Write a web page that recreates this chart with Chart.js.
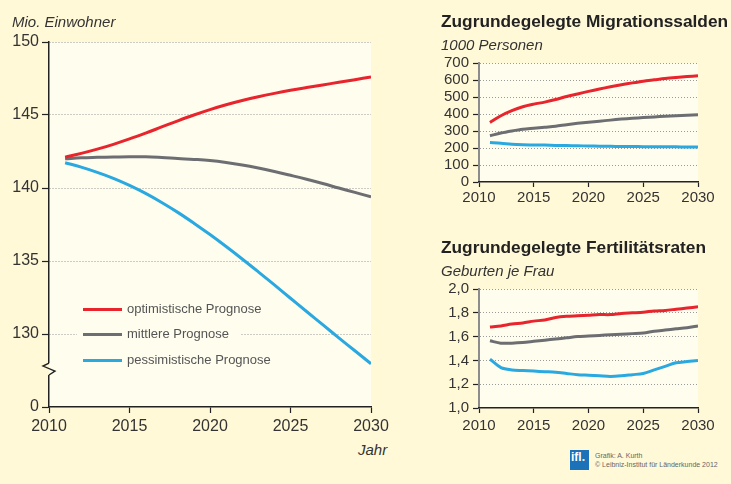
<!DOCTYPE html>
<html><head><meta charset="utf-8">
<script src="https://cdn.jsdelivr.net/npm/chart.js@4"></script>
<style>
html,body{margin:0;padding:0;background:#FFF9D7;width:731px;height:484px;overflow:hidden;font-family:"Liberation Sans",Arial,sans-serif;}
.abs{position:absolute;white-space:nowrap;}
.it{font-style:italic;color:#333;font-size:15px;line-height:17px;}
.ttl{font-weight:bold;color:#222;font-size:17.3px;line-height:20px;}
#legend{position:absolute;left:77px;top:296px;width:163px;height:76px;background:#FFFDEE;}
.lrow{position:absolute;left:6px;height:16px;font-size:13px;line-height:16px;color:#555;white-space:nowrap;width:160px;}
.lsw{position:absolute;left:0;top:6.5px;width:39px;height:3px;}
.ltx{position:absolute;left:44px;top:0;white-space:nowrap;}
</style></head><body>
<div class="abs" style="left:0;top:0;width:400px;height:440px;"><canvas id="main" width="400" height="440"></canvas></div>
<div class="abs" style="left:420px;top:0;width:311px;height:215px;"><canvas id="mig" width="311" height="215"></canvas></div>
<div class="abs" style="left:420px;top:230px;width:311px;height:215px;"><canvas id="fert" width="311" height="215"></canvas></div>

<div class="abs it" style="left:12px;top:13px;">Mio. Einwohner</div>
<div class="abs it" style="left:358px;top:441px;">Jahr</div>
<div class="abs ttl" style="left:441px;top:11px;">Zugrundegelegte Migrationssalden</div>
<div class="abs it" style="left:441px;top:36px;">1000 Personen</div>
<div class="abs ttl" style="left:441px;top:237px;">Zugrundegelegte Fertilitätsraten</div>
<div class="abs it" style="left:441px;top:262px;">Geburten je Frau</div>
<div id="legend"></div>

<div class="abs" style="left:570px;top:450px;width:19px;height:20px;background:#1B72B8;color:#fff;font-weight:bold;font-size:12px;line-height:14px;text-align:left;padding-left:1px;box-sizing:border-box;">ifl.</div>
<div class="abs" style="left:595px;top:451px;font-size:7px;line-height:9px;color:#666;">Grafik: A. Kurth<br>© Leibniz-Institut für Länderkunde 2012</div>

<script>
// ---------- data ----------
const years = [2011,2012,2013,2014,2015,2016,2017,2018,2019,2020,2021,2022,2023,2024,2025,2026,2027,2028,2029,2030];
const seriesLabels = ['optimistische Prognose','mittlere Prognose','pessimistische Prognose'];
const seriesColors = ['#E8242C','#6D6E72','#2AA8E0'];

const popOptimistic  = [142.11,142.37,142.66,142.99,143.36,143.76,144.18,144.6,145.0,145.37,145.7,145.99,146.25,146.48,146.69,146.88,147.06,147.24,147.42,147.6];
const popMedium      = [142.0,142.07,142.1,142.12,142.14,142.14,142.09,142.02,141.96,141.88,141.75,141.58,141.37,141.13,140.87,140.6,140.31,140.0,139.7,139.39];
const popPessimistic = [141.73,141.43,141.07,140.66,140.18,139.63,139.01,138.33,137.59,136.81,135.99,135.14,134.26,133.36,132.45,131.54,130.64,129.74,128.85,127.96];

const migOptimistic  = [350,390,420,443,458,470,485,503,518,533,547,560,572,583,593,601,609,615,620,625];
const migMedium      = [272,288,300,310,316,322,328,337,345,352,358,364,370,375,379,383,387,390,393,395];
const migPessimistic = [232,228,222,219,218,217,215,214,213,212,211,210,209,209,208,208,207,207,206,206];

const fertOptimistic  = [1.68,1.69,1.705,1.715,1.73,1.74,1.76,1.77,1.775,1.78,1.785,1.785,1.795,1.80,1.805,1.815,1.82,1.83,1.84,1.85];
const fertMedium      = [1.565,1.545,1.545,1.55,1.56,1.57,1.58,1.59,1.60,1.605,1.61,1.615,1.62,1.625,1.63,1.645,1.655,1.665,1.675,1.69];
const fertPessimistic = [1.41,1.34,1.32,1.315,1.31,1.305,1.30,1.29,1.28,1.275,1.27,1.265,1.27,1.28,1.29,1.32,1.35,1.38,1.39,1.40];

const yearTicks = [2010,2015,2020,2025,2030];
const popTickValues = [125,130,135,140,145,150];
const popTickLabels = ['0','130','135','140','145','150'];
const migTickValues = [0,100,200,300,400,500,600,700];
const fertTickValues = [1.0,1.2,1.4,1.6,1.8,2.0];
const fertTickLabels = ['1,0','1,2','1,4','1,6','1,8','2,0'];

// ---------- helpers ----------
Chart.defaults.font.family = '"Liberation Sans", Arial, sans-serif';
const PLOT_BG = '#FFFDEE';
const OUTER_BG = '#FFF9D7';

function ds(label, values, color, width, tension) {
  return {label, data: years.map((y,i)=>({x:y, y:values[i]})), borderColor: color, backgroundColor: color,
    borderWidth: width, pointRadius: 0, fill: false, tension: tension, borderCapStyle: 'butt', borderJoinStyle: 'round'};
}

const plotBg = {
  id: 'plotBg',
  beforeDraw(chart) {
    const {ctx, chartArea: a} = chart;
    ctx.save(); ctx.fillStyle = PLOT_BG; ctx.fillRect(a.left, a.top, a.right - a.left, a.bottom - a.top); ctx.restore();
  }
};

function makeChart(id, datasets, cfg) {
  return new Chart(document.getElementById(id), {
    type: 'line',
    data: {datasets},
    plugins: [plotBg].concat(cfg.plugins || []),
    options: {
      responsive: false, animation: false, devicePixelRatio: 1,
      layout: {autoPadding: false, padding: cfg.padding},
      plugins: {legend: {display: false}, tooltip: {enabled: false}},
      scales: {
        x: {
          type: 'linear', min: 2010, max: 2030,
          afterBuildTicks: s => { s.ticks = yearTicks.map(v => ({value: v})); },
          afterFit: s => { s.height = cfg.xHeight; },
          grid: {drawOnChartArea: false, drawTicks: true, tickLength: cfg.xTickLen, tickColor: '#222', tickWidth: 1.2},
          border: {color: '#222', width: 1.5, z: 1},
          ticks: {font: {size: cfg.xFont}, color: '#333', padding: cfg.xPad, maxRotation: 0, autoSkip: false, callback: v => String(v)}
        },
        y: {
          type: 'linear', min: cfg.yMin, max: cfg.yMax,
          afterBuildTicks: s => { s.ticks = cfg.yTicks.map(v => ({value: v})); },
          afterFit: s => { s.width = cfg.yWidth; },
          grid: {color: c => (c.tick && c.tick.value === cfg.yMin) ? 'rgba(0,0,0,0)' : '#9a9a9a', lineWidth: 1,
                 drawTicks: true, tickLength: cfg.yTickLen, tickColor: '#222', tickWidth: 1.2},
          border: {color: cfg.yBorderColor, width: cfg.yBorderWidth, dash: [1, 2]},
          ticks: {font: {size: cfg.yFont}, color: '#333', padding: cfg.yPad, autoSkip: false, callback: cfg.yLabel}
        }
      }
    }
  });
}

// axis break on main chart
const axisBreak = {
  id: 'axisBreak',
  afterDraw(chart) {
    const {ctx} = chart; const y = chart.scales.y; const x = y.left + y.width;
    const yc = y.getPixelForValue(127.6);
    ctx.save();
    ctx.fillStyle = OUTER_BG; ctx.fillRect(x - 2, yc - 6, 2, 12);
    ctx.fillStyle = PLOT_BG; ctx.fillRect(x, yc - 6, 2.5, 12);
    ctx.strokeStyle = '#222'; ctx.lineWidth = 1.4; ctx.lineJoin = 'miter';
    ctx.beginPath();
    ctx.moveTo(x, yc - 6); ctx.lineTo(x - 6, yc - 3); ctx.lineTo(x + 6, yc + 2); ctx.lineTo(x, yc + 6);
    ctx.stroke();
    ctx.restore();
  }
};

const popData = [popOptimistic, popMedium, popPessimistic];
const migData = [migOptimistic, migMedium, migPessimistic];
const fertData = [fertOptimistic, fertMedium, fertPessimistic];

makeChart('main', popData.map((d,i) => ds(seriesLabels[i], d, seriesColors[i], 3, 0.4)), {
  padding: {left: 0, right: 29, top: 42, bottom: 3},
  xHeight: 30, xTickLen: 6, xFont: 16, xPad: 4,
  yMin: 125, yMax: 150, yTicks: popTickValues, yWidth: 49, yTickLen: 7, yFont: 16, yPad: 3,
  yBorderColor: '#222', yBorderWidth: 1.5,
  yLabel: v => popTickLabels[popTickValues.indexOf(v)],
  plugins: [axisBreak]
});

makeChart('mig', migData.map((d,i) => ds(seriesLabels[i], d, seriesColors[i], 3, 0.3)), {
  padding: {left: 0, right: 33, top: 63, bottom: 5},
  xHeight: 28, xTickLen: 5, xFont: 15, xPad: 2,
  yMin: 0, yMax: 700, yTicks: migTickValues, yWidth: 59, yTickLen: 6, yFont: 15, yPad: 4,
  yBorderColor: '#8C8C8C', yBorderWidth: 2,
  yLabel: v => String(v)
});

makeChart('fert', fertData.map((d,i) => ds(seriesLabels[i], d, seriesColors[i], 3, 0.3)), {
  padding: {left: 0, right: 33, top: 59, bottom: 9},
  xHeight: 28, xTickLen: 5, xFont: 15, xPad: 4,
  yMin: 1.0, yMax: 2.0, yTicks: fertTickValues, yWidth: 59, yTickLen: 6, yFont: 15, yPad: 4,
  yBorderColor: '#8C8C8C', yBorderWidth: 2,
  yLabel: v => fertTickLabels[fertTickValues.findIndex(t => Math.abs(t - v) < 1e-6)]
});

// legend (HTML, from series arrays)
const leg = document.getElementById('legend');
const rowTops = [5, 30, 56];
seriesLabels.forEach((lab, i) => {
  const r = document.createElement('div'); r.className = 'lrow'; r.style.top = rowTops[i] + 'px';
  const sw = document.createElement('div'); sw.className = 'lsw'; sw.style.background = seriesColors[i];
  const tx = document.createElement('div'); tx.className = 'ltx'; tx.textContent = lab;
  r.appendChild(sw); r.appendChild(tx); leg.appendChild(r);
});
</script>
</body></html>
